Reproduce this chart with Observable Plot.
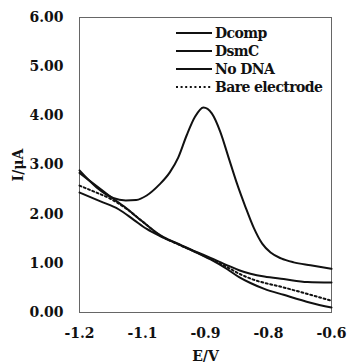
<!DOCTYPE html>
<html><head><meta charset="utf-8">
<script src="https://cdn.jsdelivr.net/npm/d3@7"></script>
<script src="https://cdn.jsdelivr.net/npm/@observablehq/plot@0.6"></script>
<style>
html,body{margin:0;padding:0;background:#fff;}
#wrap{position:relative;width:347px;height:362px;overflow:hidden;}
#legend{position:absolute;left:176px;top:24px;font-family:"DejaVu Serif",serif;font-weight:bold;font-size:14px;color:#111;line-height:18px;letter-spacing:-0.6px;}
#legend div{display:flex;align-items:center;height:18px;}
#legend svg{margin-right:3px;}
</style></head>
<body><div id="wrap"><div id="legend"></div></div>
<script>
const seriesNames = ["Dcomp", "DsmC", "No DNA", "Bare electrode"];
const dashes = [null, null, null, "2,2.6"];

const dcompE = [-1.2, -1.16, -1.12, -1.09, -1.065, -1.04, -1.01, -0.985, -0.965, -0.945, -0.925, -0.905, -0.885, -0.865, -0.845, -0.825, -0.805, -0.785, -0.765, -0.745, -0.72, -0.69, -0.65, -0.6];
const dcompI = [2.89, 2.55, 2.33, 2.28, 2.29, 2.38, 2.6, 2.85, 3.15, 3.6, 3.98, 4.17, 4.05, 3.68, 3.15, 2.62, 2.15, 1.72, 1.4, 1.22, 1.1, 1.02, 0.96, 0.89];

const dsmcE = [-1.2, -1.13, -1.09, -1.05, -1.007, -0.971, -0.929, -0.888, -0.848, -0.82, -0.793, -0.76, -0.714, -0.657, -0.6];
const dsmcI = [2.84, 2.38, 2.13, 1.85, 1.57, 1.42, 1.26, 1.11, 0.96, 0.86, 0.79, 0.73, 0.68, 0.62, 0.61];

const nodnaE = [-1.2, -1.15, -1.107, -1.07, -1.04, -1.007, -0.971, -0.929, -0.888, -0.848, -0.82, -0.793, -0.76, -0.714, -0.65, -0.6];
const nodnaI = [2.44, 2.26, 2.1, 1.88, 1.7, 1.55, 1.41, 1.25, 1.08, 0.88, 0.72, 0.6, 0.48, 0.36, 0.2, 0.1];

const bareE = [-1.2, -1.16, -1.13, -1.09, -1.05, -1.007, -0.971, -0.929, -0.888, -0.848, -0.82, -0.793, -0.714, -0.65, -0.6];
const bareI = [2.58, 2.44, 2.33, 2.12, 1.85, 1.56, 1.41, 1.25, 1.09, 0.92, 0.79, 0.69, 0.51, 0.36, 0.24];

const xTicks = [-1.2, -1.05, -0.9, -0.75, -0.6];
const xTickLabels = ["-1.2", "-1.1", "-0.9", "-0.8", "-0.6"];
const yTicks = [0, 1, 2, 3, 4, 5, 6];

const toRows = (name, E, I) => E.map((e, i) => ({series: name, E: e, I: I[i]}));
const curves = [
  toRows("Dcomp", dcompE, dcompI),
  toRows("DsmC", dsmcE, dsmcI),
  toRows("No DNA", nodnaE, nodnaI),
  toRows("Bare electrode", bareE, bareI)
];

const lineMarks = curves.map((rows, k) => Plot.line(rows, {
  x: "E", y: "I", curve: "monotone-x",
  stroke: "#111", strokeWidth: 2,
  strokeDasharray: dashes[k] || undefined
}));

const serif = "'DejaVu Serif', serif";
const chart = Plot.plot({
  width: 347, height: 362,
  marginLeft: 79, marginRight: 16, marginTop: 17, marginBottom: 50,
  style: {fontFamily: serif, fontWeight: "bold", fontSize: "14px", color: "#111", background: "#fff"},
  x: {domain: [-1.2, -0.6], ticks: xTicks, tickFormat: (d, i) => xTickLabels[i], tickSize: 0, tickPadding: 16, label: "E/V", labelArrow: false, labelAnchor: "center", labelOffset: 48},
  y: {domain: [0, 6], ticks: yTicks, tickFormat: d3.format(".2f"), tickSize: 0, tickPadding: 16, label: "I/μA", labelArrow: false, labelAnchor: "center", labelOffset: 66},
  marks: [
    Plot.frame({stroke: "#666", strokeWidth: 1}),
    ...lineMarks
  ]
});
chart.querySelectorAll("text").forEach(t => { t.style.fontFamily = serif; });
document.getElementById("wrap").prepend(chart);

const legend = document.getElementById("legend");
seriesNames.forEach((name, k) => {
  const row = document.createElement("div");
  const dash = dashes[k] ? `stroke-dasharray="${dashes[k]}"` : "";
  row.innerHTML = `<svg width="36" height="6"><line x1="0" x2="36" y1="3" y2="3" stroke="#111" stroke-width="2" ${dash}/></svg><span>${name}</span>`;
  legend.appendChild(row);
});
</script></body></html>
